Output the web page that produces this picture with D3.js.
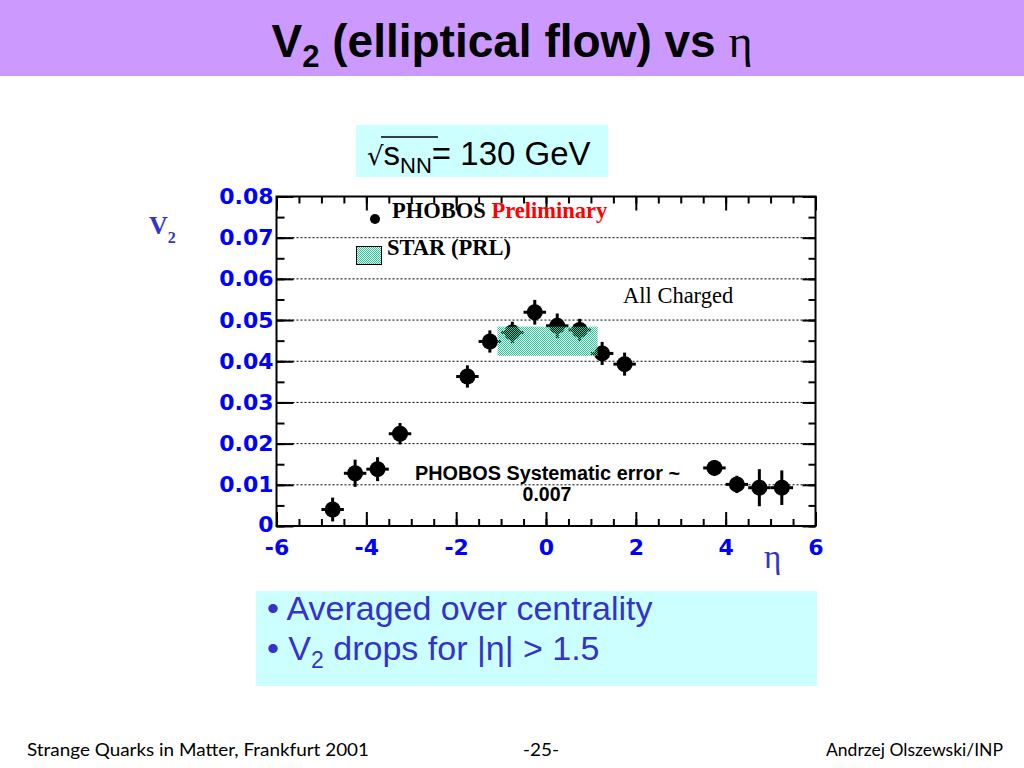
<!DOCTYPE html>
<html><head><meta charset="utf-8">
<script src="https://cdn.jsdelivr.net/npm/d3@7/dist/d3.min.js"></script>
<style>html,body{margin:0;padding:0;background:#fff;}svg{display:block;}</style>
</head><body>
<svg id="c" width="1024" height="768"></svg>
<script>
// ---- data ----
const eta    = [-4.75,-4.25,-3.75,-3.25,-1.75,-1.25,-0.75,-0.25,0.25,0.75,1.25,1.75,3.75,4.25,4.75,5.25];
const v2     = [0.0040,0.0128,0.0138,0.0224,0.0363,0.0448,0.0470,0.0519,0.0486,0.0476,0.0419,0.0393,0.0141,0.0101,0.0093,0.0093];
const v2Err  = [0.0029,0.0033,0.0029,0.0026,0.0027,0.0027,0.0026,0.0030,0.0030,0.0027,0.0028,0.0028,0.0019,0.0021,0.0045,0.0042];
const etaErr = 0.25;
const starEta = [-1.08, 1.15];
const starV2  = [0.0413, 0.0484];
const xMajor = [-6,-4,-2,0,2,4,6];
const yMajor = [0,0.01,0.02,0.03,0.04,0.05,0.06,0.07,0.08];
const gridY  = [0.01,0.02,0.03,0.04,0.05,0.06,0.07];
const bullets = ["Averaged over centrality", "drops for |η| > 1.5"];
const footer = ["Strange Quarks in Matter, Frankfurt 2001", "-25-", "Andrzej Olszewski/INP"];

const svg = d3.select("#c");
const W = 1024, H = 768;
svg.append("rect").attr("width",W).attr("height",H).attr("fill","#fff");

// pattern
const defs = svg.append("defs");
const pat = defs.append("pattern").attr("id","chk").attr("width",2).attr("height",2).attr("patternUnits","userSpaceOnUse");
pat.append("rect").attr("x",0).attr("y",0).attr("width",1).attr("height",1).attr("fill","#22cc99");
pat.append("rect").attr("x",1).attr("y",1).attr("width",1).attr("height",1).attr("fill","#22cc99");

// title band
svg.append("rect").attr("x",0).attr("y",0).attr("width",W).attr("height",76).attr("fill","#cc99ff");
const t = svg.append("text").attr("x",512).attr("y",57).attr("text-anchor","middle")
  .attr("font-family","Liberation Sans, Arial, sans-serif").attr("font-weight","bold").attr("font-size",46).attr("fill","#000");
t.append("tspan").text("V");
t.append("tspan").attr("font-size",31).attr("dy",10).text("2");
t.append("tspan").attr("dy",-10).text(" (elliptical flow) vs ");
t.append("tspan").attr("font-family","Liberation Serif, serif").attr("font-weight","normal").text("η");

// sqrt box
svg.append("rect").attr("x",356).attr("y",125).attr("width",252).attr("height",52).attr("fill","#ccffff");
const s = svg.append("text").attr("x",367).attr("y",165).attr("font-family","Liberation Sans, Arial, sans-serif").attr("font-size",33).attr("fill","#000");
s.append("tspan").attr("font-family","DejaVu Sans, sans-serif").attr("font-size",26).text("√");
s.append("tspan").text("s");
s.append("tspan").attr("font-size",22).attr("dy",8).text("NN");
s.append("tspan").attr("dy",-8).text("= 130 GeV");
svg.append("line").attr("x1",381).attr("x2",438).attr("y1",137).attr("y2",137).attr("stroke","#000").attr("stroke-width",1.5);

// scales
const x = d3.scaleLinear().domain([-6,6]).range([276.5,815.5]);
const y = d3.scaleLinear().domain([0,0.08]).range([526,196.5]);

// gridlines
svg.append("g").selectAll("line").data(gridY).join("line")
  .attr("x1",x(-6)).attr("x2",x(6)).attr("y1",d=>y(d)).attr("y2",d=>y(d))
  .attr("stroke","#000").attr("stroke-width",1).attr("stroke-dasharray","2,2");

// axes
const xMinor = d3.range(-6,6.01,0.5);
const yMinor = d3.range(0,0.0801,0.005);
function styleAxis(g){ g.select(".domain").remove(); g.selectAll("line").attr("stroke","#000").attr("stroke-width",2); }
const tickFont = g => g.selectAll("text").attr("font-family","DejaVu Sans, sans-serif").attr("font-weight","bold").attr("font-size",22).attr("fill","#0000ff");

svg.append("g").attr("transform",`translate(0,${y(0)})`)
  .call(d3.axisBottom(x).tickValues(xMinor).tickSize(-7).tickFormat("")).call(styleAxis);
svg.append("g").attr("transform",`translate(0,${y(0)})`)
  .call(d3.axisBottom(x).tickValues(xMajor).tickSize(-14).tickPadding(13).tickFormat(d=>String(d)))
  .call(styleAxis).call(tickFont);
svg.append("g").attr("transform",`translate(0,${y(0.08)})`)
  .call(d3.axisTop(x).tickValues(xMinor).tickSize(-7).tickFormat("")).call(styleAxis);
svg.append("g").attr("transform",`translate(0,${y(0.08)})`)
  .call(d3.axisTop(x).tickValues(xMajor).tickSize(-14).tickFormat("")).call(styleAxis);

svg.append("g").attr("transform",`translate(${x(-6)},0)`)
  .call(d3.axisLeft(y).tickValues(yMinor).tickSize(-8).tickFormat("")).call(styleAxis);
const yAx = svg.append("g").attr("transform",`translate(${x(-6)},0)`)
  .call(d3.axisLeft(y).tickValues(yMajor).tickSize(-17).tickPadding(3).tickFormat(d=>d===0?"0":d3.format(".2f")(d)))
  .call(styleAxis).call(tickFont);
yAx.selectAll("text").filter(d=>d===0).attr("dy","0.26em");
svg.append("g").attr("transform",`translate(${x(6)},0)`)
  .call(d3.axisRight(y).tickValues(yMinor).tickSize(-7).tickFormat("")).call(styleAxis);
svg.append("g").attr("transform",`translate(${x(6)},0)`)
  .call(d3.axisRight(y).tickValues(yMajor).tickSize(-13).tickFormat("")).call(styleAxis);

// frame
svg.append("rect").attr("x",x(-6)).attr("y",y(0.08)).attr("width",x(6)-x(-6)).attr("height",y(0)-y(0.08))
  .attr("fill","none").attr("stroke","#000").attr("stroke-width",2);

// points
const pts = eta.map((e,i)=>({e, v:v2[i], err:v2Err[i]}));
const pg = svg.append("g");
pg.selectAll(".ev").data(pts).join("line").attr("class","ev")
  .attr("x1",d=>x(d.e)).attr("x2",d=>x(d.e)).attr("y1",d=>y(d.v-d.err)).attr("y2",d=>y(d.v+d.err))
  .attr("stroke","#000").attr("stroke-width",3);
pg.selectAll(".eh").data(pts).join("line").attr("class","eh")
  .attr("x1",d=>x(d.e-etaErr)).attr("x2",d=>x(d.e+etaErr)).attr("y1",d=>y(d.v)).attr("y2",d=>y(d.v))
  .attr("stroke","#000").attr("stroke-width",3);
pg.selectAll("circle").data(pts).join("circle")
  .attr("cx",d=>x(d.e)).attr("cy",d=>y(d.v)).attr("r",8).attr("fill","#000");

// STAR band
svg.append("rect").attr("x",x(starEta[0])).attr("y",y(starV2[1]))
  .attr("width",x(starEta[1])-x(starEta[0])).attr("height",y(starV2[0])-y(starV2[1]))
  .attr("fill","url(#chk)");

// legend
svg.append("circle").attr("cx",375).attr("cy",219).attr("r",5).attr("fill","#000");
const l1 = svg.append("text").attr("x",392).attr("y",218).attr("font-family","Liberation Serif, Times New Roman, serif")
  .attr("font-weight","bold").attr("font-size",22.5);
l1.append("tspan").attr("fill","#000").text("PHOBOS ");
l1.append("tspan").attr("fill","#ff0000").text("Preliminary");
svg.append("rect").attr("x",356.5).attr("y",246.5).attr("width",25).attr("height",18).attr("fill","url(#chk)").attr("stroke","#000").attr("stroke-width",1);
svg.append("text").attr("x",387).attr("y",255).attr("font-family","Liberation Serif, Times New Roman, serif")
  .attr("font-weight","bold").attr("font-size",22.5).attr("fill","#000").text("STAR (PRL)");
svg.append("text").attr("x",623).attr("y",303).attr("font-family","Liberation Serif, Times New Roman, serif")
  .attr("font-size",22.5).attr("fill","#000").text("All Charged");

// systematic error note
svg.append("text").attr("x",415).attr("y",480).attr("font-family","Liberation Sans, Arial, sans-serif")
  .attr("font-weight","bold").attr("font-size",19.5).attr("fill","#000")
  .attr("textLength",265).attr("lengthAdjust","spacingAndGlyphs").text("PHOBOS Systematic error ~");
svg.append("text").attr("x",547).attr("y",501).attr("text-anchor","middle").attr("font-family","Liberation Sans, Arial, sans-serif")
  .attr("font-weight","bold").attr("font-size",19.5).attr("fill","#000").text("0.007");

// axis titles
const yl = svg.append("text").attr("x",149).attr("y",234).attr("font-family","Liberation Serif, Times New Roman, serif")
  .attr("font-weight","bold").attr("font-size",26).attr("fill","#3333cc");
yl.append("tspan").text("V");
yl.append("tspan").attr("font-size",16).attr("dy",9).text("2");
svg.append("text").attr("x",764).attr("y",568).attr("font-family","Liberation Serif, Times New Roman, serif")
  .attr("font-size",33).attr("fill","#3333cc").text("η");

// bullet box
svg.append("rect").attr("x",256).attr("y",591).attr("width",561).attr("height",95).attr("fill","#ccffff");
const bf = "Liberation Sans, Arial, sans-serif";
svg.append("text").attr("x",267).attr("y",620).attr("font-family",bf).attr("font-size",34).attr("fill","#3333cc")
  .text("• " + bullets[0]);
const b2 = svg.append("text").attr("x",267).attr("y",660).attr("font-family",bf).attr("font-size",34).attr("fill","#3333cc");
b2.append("tspan").text("• V");
b2.append("tspan").attr("font-size",23).attr("dy",8).text("2");
b2.append("tspan").attr("dy",-8).text(" " + bullets[1]);

// footer
const ff = "Comic Sans MS, Lato, sans-serif";
svg.append("text").attr("x",27).attr("y",756).attr("font-family",ff).attr("font-size",17).attr("fill","#000")
  .attr("textLength",342).attr("lengthAdjust","spacingAndGlyphs").text(footer[0]);
svg.append("text").attr("x",523).attr("y",756).attr("font-family",ff).attr("font-size",17).attr("fill","#000")
  .attr("textLength",36).attr("lengthAdjust","spacingAndGlyphs").text(footer[1]);
svg.append("text").attr("x",826).attr("y",756).attr("font-family",ff).attr("font-size",17).attr("fill","#000")
  .attr("textLength",177).attr("lengthAdjust","spacingAndGlyphs").text(footer[2]);
</script>
</body></html>
